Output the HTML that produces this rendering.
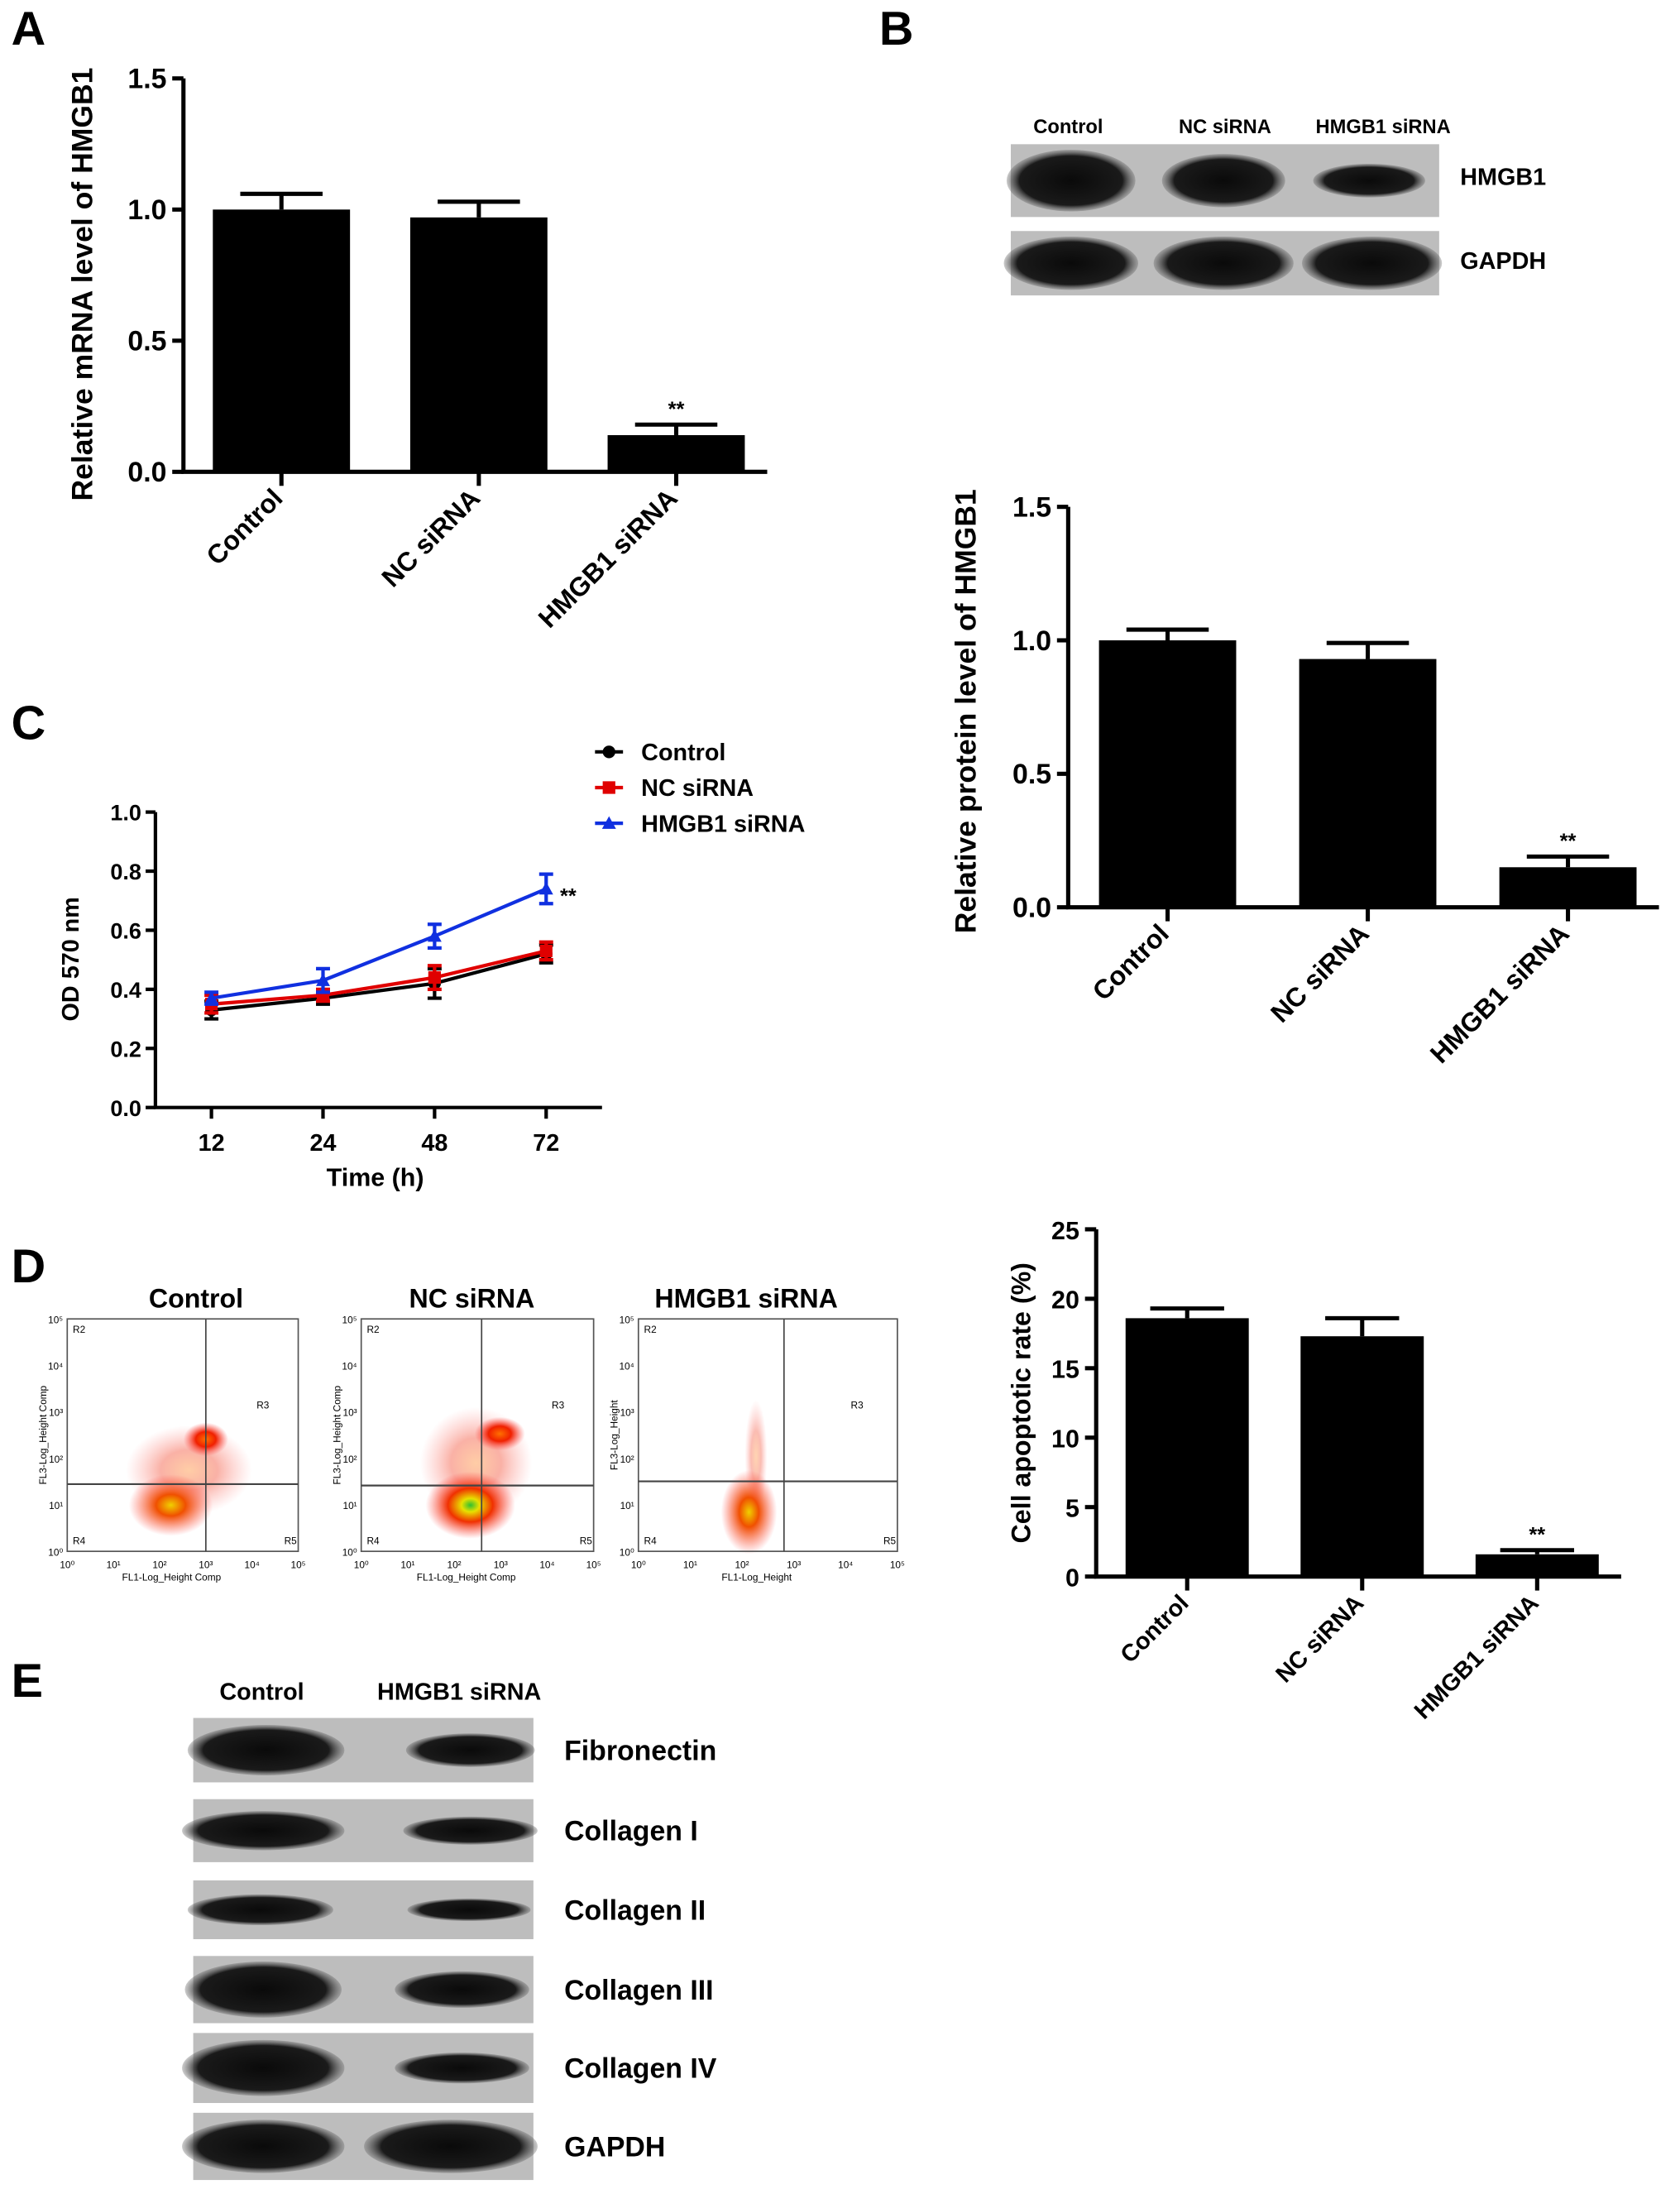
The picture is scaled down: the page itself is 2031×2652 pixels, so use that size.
<!DOCTYPE html>
<html><head><meta charset="utf-8"><style>
html,body{margin:0;padding:0;background:#fff}
svg{display:block}
text{font-family:"Liberation Sans",Arial,sans-serif;font-weight:bold;fill:#000}
.t{font-weight:normal}
</style></head><body>
<svg id="fig" xmlns="http://www.w3.org/2000/svg" width="2031" height="2652" viewBox="0 0 1200 1567">
<defs>
<radialGradient id="blobR"><stop offset="0" stop-color="#ff7000"/><stop offset="0.45" stop-color="#f02000"/><stop offset="1" stop-color="#ff5050" stop-opacity="0"/></radialGradient>
<radialGradient id="blobG"><stop offset="0" stop-color="#30c030"/><stop offset="0.2" stop-color="#e8e000"/><stop offset="0.5" stop-color="#f03000"/><stop offset="1" stop-color="#ff5050" stop-opacity="0"/></radialGradient>
<radialGradient id="blobY"><stop offset="0" stop-color="#f0d000"/><stop offset="0.35" stop-color="#f05000"/><stop offset="1" stop-color="#ff5050" stop-opacity="0"/></radialGradient>
<radialGradient id="band"><stop offset="0" stop-color="#0a0a0a"/><stop offset="0.8" stop-color="#1a1a1a"/><stop offset="1" stop-color="#555" stop-opacity="0.3"/></radialGradient>
</defs>
<g id="root"></g>
<text x="8" y="32" font-size="34">A</text>
<text x="628" y="32" font-size="34">B</text>
<text x="8" y="528" font-size="34">C</text>
<text x="8" y="916" font-size="34">D</text>
<text x="8" y="1212" font-size="34">E</text>

<g>
<text x="763" y="95" font-size="14" text-anchor="middle">Control</text>
<text x="875" y="95" font-size="14" text-anchor="middle">NC siRNA</text>
<text x="988" y="95" font-size="14" text-anchor="middle">HMGB1 siRNA</text>
<rect x="722" y="103" width="306" height="52" fill="#bdbdbd"/>
<ellipse cx="765" cy="129" rx="46" ry="22" fill="url(#band)"/>
<ellipse cx="874" cy="129" rx="44" ry="19" fill="url(#band)"/>
<ellipse cx="978" cy="129" rx="40" ry="12" fill="url(#band)"/>
<rect x="722" y="165" width="306" height="46" fill="#bdbdbd"/>
<ellipse cx="765" cy="188" rx="48" ry="19" fill="url(#band)"/>
<ellipse cx="874" cy="188" rx="50" ry="19" fill="url(#band)"/>
<ellipse cx="980" cy="188" rx="50" ry="19" fill="url(#band)"/>
<text x="1043" y="132" font-size="17">HMGB1</text>
<text x="1043" y="192" font-size="17">GAPDH</text>
</g>

<g>
<text x="140" y="934" font-size="19" text-anchor="middle">Control</text>
<text x="337" y="934" font-size="19" text-anchor="middle">NC siRNA</text>
<text x="533" y="934" font-size="19" text-anchor="middle">HMGB1 siRNA</text>
<g id="flow"></g>
</g>

<g>
<text x="187" y="1214" font-size="17" text-anchor="middle">Control</text>
<text x="328" y="1214" font-size="17" text-anchor="middle">HMGB1 siRNA</text>
<g id="blotE"></g>
</g>
</svg>
<script>
const NS='http://www.w3.org/2000/svg';
function mk(tag,attrs,parent,txt){const e=document.createElementNS(NS,tag);for(const k in attrs)e.setAttribute(k,attrs[k]);if(txt!==undefined)e.textContent=txt;(parent||document.getElementById('root')).appendChild(e);return e;}

const barCats=['Control','NC siRNA','HMGB1 siRNA'];
const mrnaVals=[1.0,0.97,0.14];
const mrnaErr=[0.06,0.06,0.04];
const protVals=[1.0,0.93,0.15];
const protErr=[0.04,0.06,0.04];
const apopVals=[18.6,17.3,1.6];
const apopErr=[0.7,1.3,0.3];
const ticks15=['0.0','0.5','1.0','1.5'];
const ticksApop=['0','5','10','15','20','25'];
const timeLabels=['12','24','48','72'];
const odControl=[0.33,0.37,0.42,0.52];
const odControlErr=[0.03,0.02,0.05,0.03];
const odNC=[0.35,0.38,0.44,0.53];
const odNCErr=[0.03,0.02,0.04,0.03];
const odHMGB1=[0.37,0.43,0.58,0.74];
const odHMGB1Err=[0.02,0.04,0.04,0.05];
const odTicks=['0.0','0.2','0.4','0.6','0.8','1.0'];

function barChart(name,o){
  const g=mk('g',{});
  
  
  const y=v=>o.y0-(v/o.max)*(o.y0-o.y1);
  const ax=mk('path',{d:`M${o.x0} ${o.y1}V${o.y0}H${o.xEnd}`,stroke:'#000','stroke-width':3,fill:'none'},g);
  
  
  o.ticks.forEach(t=>{const v=parseFloat(t);const yy=y(v);
    mk('line',{x1:o.x0-8,x2:o.x0,y1:yy,y2:yy,stroke:'#000','stroke-width':3},g);
    const tl=mk('text',{x:o.x0-12,y:yy+7,'font-size':o.fs,'text-anchor':'end'},g,t);
    
    
  });
  o.vals.forEach((v,i)=>{
    const cx=o.c0+i*o.step;
    const eTop=y(v+o.err[i]);
    mk('line',{x1:cx,x2:cx,y1:y(v),y2:eTop,stroke:'#000','stroke-width':3},g);
    mk('line',{x1:cx-o.bw*0.3,x2:cx+o.bw*0.3,y1:eTop,y2:eTop,stroke:'#000','stroke-width':3},g);
    const b=mk('rect',{x:cx-o.bw/2,y:y(v),width:o.bw,height:o.y0-y(v),fill:'#000'},g);
    
    
    mk('line',{x1:cx,x2:cx,y1:o.y0,y2:o.y0+10,stroke:'#000','stroke-width':3},g);
    const tl=mk('text',{x:cx+2,y:o.y0+20,'font-size':o.xfs,'text-anchor':'end',transform:`rotate(-45 ${cx+2} ${o.y0+20})`},g,barCats[i]);
    
    
    if(i===2){const s=mk('text',{x:cx,y:eTop-6,'font-size':15,'text-anchor':'middle'},g,'**');
      
      }
  });
  const yt=mk('text',{x:o.tx,y:o.ty,'font-size':o.tfs,'text-anchor':'middle',transform:`rotate(-90 ${o.tx} ${o.ty})`},g,o.title);
  
  
}
barChart('chart-a-mrna',{x0:131,xEnd:548,y0:337,y1:56,max:1.5,ticks:ticks15,vals:mrnaVals,err:mrnaErr,c0:201,step:141,bw:98,fs:20,xfs:19,tx:66,ty:203,tfs:21,title:'Relative mRNA level of HMGB1'});
barChart('chart-b-protein',{x0:763,xEnd:1185,y0:648,y1:362,max:1.5,ticks:ticks15,vals:protVals,err:protErr,c0:834,step:143,bw:98,fs:20,xfs:19,tx:697,ty:508,tfs:21,title:'Relative protein level of HMGB1'});
barChart('chart-d-apoptosis',{x0:783,xEnd:1158,y0:1126,y1:878,max:25,ticks:ticksApop,vals:apopVals,err:apopErr,c0:848,step:125,bw:88,fs:18,xfs:17,tx:736,ty:1002,tfs:19,title:'Cell apoptotic rate (%)'});

(function(){
  const g=mk('g',{});
  
  
  const x0=111,y0=791,y1=580,xi=i=>151+i*79.7,y=v=>y0-v*(y0-y1);
  mk('path',{d:`M${x0} ${y1}V${y0}H430`,stroke:'#000','stroke-width':2.5,fill:'none'},g);
  odTicks.forEach(t=>{const yy=y(parseFloat(t));mk('line',{x1:x0-7,x2:x0,y1:yy,y2:yy,stroke:'#000','stroke-width':2.5},g);
    const l=mk('text',{x:x0-10,y:yy+6,'font-size':16,'text-anchor':'end'},g,t);
    
    });
  timeLabels.forEach((t,i)=>{mk('line',{x1:xi(i),x2:xi(i),y1:y0,y2:y0+8,stroke:'#000','stroke-width':2.5},g);
    const l=mk('text',{x:xi(i),y:822,'font-size':17,'text-anchor':'middle'},g,t);
    
    });
  const xt=mk('text',{x:268,y:847,'font-size':18,'text-anchor':'middle'},g,'Time (h)');
  
  
  const yt=mk('text',{x:56,y:685,'font-size':17,'text-anchor':'middle',transform:'rotate(-90 56 685)'},g,'OD 570 nm');
  
  
  const series=[['control',odControl,odControlErr,'#000','circle','Control'],['nc',odNC,odNCErr,'#e00000','square','NC siRNA'],['hmgb1',odHMGB1,odHMGB1Err,'#1030e0','tri','HMGB1 siRNA']];
  series.forEach((s,k)=>{
    const [id,vals,err,col,shape,lab]=s;
    const pts=vals.map((v,i)=>xi(i)+','+y(v)).join(' ');
    const pl=mk('polyline',{points:pts,fill:'none',stroke:col,'stroke-width':2.5},g);
    
    
    vals.forEach((v,i)=>{const cx=xi(i);
      mk('path',{d:`M${cx} ${y(v-err[i])}V${y(v+err[i])}M${cx-5} ${y(v-err[i])}h10M${cx-5} ${y(v+err[i])}h10`,stroke:col,'stroke-width':2.5,fill:'none'},g);
      drawMark(g,shape,cx,y(v),col);});
    const ly=537+k*25.5;
    mk('line',{x1:425,x2:445,y1:ly,y2:ly,stroke:col,'stroke-width':2.5},g);
    drawMark(g,shape,435,ly,col);
    const lt=mk('text',{x:458,y:ly+6,'font-size':17},g,lab);
    
    
  });
  const s=mk('text',{x:400,y:645,'font-size':15},g,'**');
  
  
  function drawMark(g,shape,cx,cy,col){
    if(shape==='circle')mk('circle',{cx,cy,r:4.5,fill:col},g);
    else if(shape==='square')mk('rect',{x:cx-4.5,y:cy-4.5,width:9,height:9,fill:col},g);
    else mk('path',{d:`M${cx} ${cy-5}L${cx+5} ${cy+4}H${cx-5}Z`,fill:col},g);
  }
})();

(function(){
  const root=document.getElementById('flow');
  const plots=[
    {x:48,w:165,vx:147,hy:1060,blobs:[[135,1050,45,32,'url(#blobR)',0.35],[122,1075,30,22,'url(#blobY)',1],[147,1028,16,12,'url(#blobR)',1]],yl:'FL3-Log_Height Comp',xl:'FL1-Log_Height Comp'},
    {x:258,w:166,vx:344,hy:1061,blobs:[[340,1045,40,40,'url(#blobR)',0.35],[336,1075,32,24,'url(#blobG)',1],[357,1024,18,12,'url(#blobR)',1]],yl:'FL3-Log_Height Comp',xl:'FL1-Log_Height Comp'},
    {x:456,w:185,vx:560,hy:1058,blobs:[[535,1080,20,30,'url(#blobY)',1],[540,1040,8,40,'url(#blobR)',0.3]],yl:'FL3-Log_Height',xl:'FL1-Log_Height'}];
  plots.forEach((p,k)=>{
    const g=mk('g',{},root);
    
    
    const yT=942,yB=1108;
    p.blobs.forEach(b=>mk('ellipse',{cx:b[0],cy:b[1],rx:b[2],ry:b[3],fill:b[4],opacity:b[5]},g));
    mk('rect',{x:p.x,y:yT,width:p.w,height:yB-yT,fill:'none',stroke:'#555','stroke-width':1},g);
    mk('line',{x1:p.vx,x2:p.vx,y1:yT,y2:yB,stroke:'#444','stroke-width':1},g);
    mk('line',{x1:p.x,x2:p.x+p.w,y1:p.hy,y2:p.hy,stroke:'#444','stroke-width':1.3},g);
    for(let i=0;i<6;i++){
      mk('text',{x:p.x+i*p.w/5,y:yB+12,'font-size':7,'text-anchor':'middle',class:'t'},g,'10'+['⁰','¹','²','³','⁴','⁵'][i]);
      mk('text',{x:p.x-3,y:yB-i*(yB-yT)/5+3,'font-size':7,'text-anchor':'end',class:'t'},g,'10'+['⁰','¹','²','³','⁴','⁵'][i]);
    }
    mk('text',{x:p.x+p.w/2-8,y:yB+21,'font-size':7,'text-anchor':'middle',class:'t'},g,p.xl);
    const tx=p.x-15,ty=1025;
    mk('text',{x:tx,y:ty,'font-size':7,'text-anchor':'middle',class:'t',transform:`rotate(-90 ${tx} ${ty})`},g,p.yl);
    mk('text',{x:p.x+4,y:yT+10,'font-size':7,class:'t'},g,'R2');
    mk('text',{x:p.x+4,y:yB-5,'font-size':7,class:'t'},g,'R4');
    mk('text',{x:p.x+p.w-10,y:yB-5,'font-size':7,class:'t'},g,'R5');
    mk('text',{x:p.x+p.w*0.82,y:1006,'font-size':7,class:'t'},g,'R3');
  });
})();

(function(){
  const root=document.getElementById('blotE');
  const names=['Fibronectin','Collagen I','Collagen II','Collagen III','Collagen IV','GAPDH'];
  const rows=[[1227,46],[1285,45],[1343,42],[1397,48],[1452,50],[1509,48]];
  const bands=[[[190,18,56],[336,12,46]],[[188,14,58],[336,10,48]],[[186,11,52],[335,8,44]],[[188,20,56],[330,13,48]],[[188,20,58],[330,11,48]],[[188,19,58],[322,19,62]]];
  names.forEach((n,i)=>{
    const [y,h]=rows[i];
    const g=mk('g',{},root);
    
    
    mk('rect',{x:138,y,width:243,height:h,fill:'#bdbdbd'},g);
    bands[i].forEach(b=>mk('ellipse',{cx:b[0],cy:y+h/2,rx:b[2],ry:b[1],fill:'url(#band)'},g));
    mk('text',{x:403,y:y+h/2+7,'font-size':20},g,n);
  });
})();
</script>
</body></html>
